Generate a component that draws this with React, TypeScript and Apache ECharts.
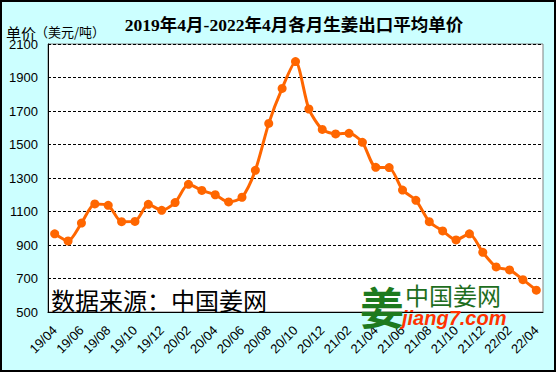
import React, { useEffect, useRef } from "react";
import * as echarts from "echarts";

const categories = [
  "19/04", "19/05", "19/06", "19/07", "19/08", "19/09", "19/10", "19/11", "19/12",
  "20/01", "20/02", "20/03", "20/04", "20/05", "20/06", "20/07", "20/08", "20/09",
  "20/10", "20/11", "20/12", "21/01", "21/02", "21/03", "21/04", "21/05", "21/06",
  "21/07", "21/08", "21/09", "21/10", "21/11", "21/12", "22/01", "22/02", "22/03",
  "22/04",
];

const prices = [
  967, 924, 1031, 1145, 1137, 1039, 1041, 1143, 1107,
  1153, 1262, 1226, 1200, 1157, 1185, 1346, 1626, 1835,
  1995, 1712, 1590, 1563, 1567, 1513, 1364, 1362, 1228,
  1167, 1039, 984, 930, 967, 856, 769, 751, 693,
  630,
];

const yMin = 500;
const yMax = 2100;
const yStep = 200;

const titleText = "2019年4月-2022年4月各月生姜出口平均单价";
const sourceText = "数据来源：中国姜网";

export default function App() {
  const ref = useRef<HTMLDivElement>(null);

  useEffect(() => {
    if (!ref.current) return;
    const chart = echarts.init(ref.current, null, { renderer: "svg" });
    const cjk = '"Noto Sans CJK SC", "Liberation Sans", sans-serif';
    chart.setOption({
      animation: false,
      backgroundColor: "#ccffff",
      grid: {
        left: 48,
        top: 44,
        right: 13,
        bottom: 60,
        show: true,
        backgroundColor: "#ffffff",
        borderColor: "#808080",
        borderWidth: 1,
      },
      xAxis: {
        type: "category",
        data: categories,
        boundaryGap: true,
        axisLine: { lineStyle: { color: "#000", width: 1 } },
        axisTick: { show: false },
        axisLabel: {
          interval: 1,
          rotate: 45,
          margin: 16,
          color: "#000",
          fontSize: 13,
          fontFamily: '"Liberation Sans", Arial, sans-serif',
        },
        splitLine: { show: false },
      },
      yAxis: {
        type: "value",
        min: yMin,
        max: yMax,
        interval: yStep,
        axisLine: { show: true, lineStyle: { color: "#000", width: 1 } },
        axisTick: { show: false },
        axisLabel: {
          margin: 10,
          color: "#000",
          fontSize: 13,
          fontFamily: '"Liberation Sans", Arial, sans-serif',
          formatter: (v: number) => String(v),
        },
        splitLine: {
          show: true,
          lineStyle: { color: "#000", type: [3, 2], width: 1 },
        },
      },
      series: [
        {
          type: "line",
          data: prices,
          smooth: 0.25,
          symbol: "circle",
          symbolSize: 9,
          showAllSymbol: true,
          lineStyle: { color: "#ff6600", width: 3 },
          itemStyle: { color: "#ff6600" },
          z: 3,
        },
      ],
      graphic: [
        {
          type: "rect",
          shape: { x: 1, y: 1, width: 554, height: 370 },
          style: { fill: "transparent", stroke: "#000", lineWidth: 2 },
          silent: true,
          z: 100,
        },
        {
          type: "text",
          x: 294,
          y: 25,
          style: {
            text: titleText,
            font: `bold 17.5px "Liberation Serif", "Noto Sans CJK SC", serif`,
            fill: "#000",
            align: "center",
            verticalAlign: "middle",
          },
        },
        {
          type: "text",
          x: 6,
          y: 32,
          style: {
            text: "单价",
            font: `15px ${cjk}`,
            fill: "#000",
            align: "left",
            verticalAlign: "middle",
          },
        },
        {
          type: "text",
          x: 35,
          y: 31,
          style: {
            text: "（美元/吨）",
            font: `13px ${cjk}`,
            fill: "#000",
            align: "left",
            verticalAlign: "middle",
          },
        },
        {
          type: "text",
          x: 51,
          y: 299,
          style: {
            text: sourceText,
            font: `24px ${cjk}`,
            fill: "#000",
            align: "left",
            verticalAlign: "middle",
          },
          z: 10,
        },
        {
          type: "text",
          x: 382,
          y: 306,
          style: {
            text: "姜",
            font: `bold 44px ${cjk}`,
            fill: "#1e7a1e",
            align: "center",
            verticalAlign: "middle",
          },
          z: 10,
        },
        {
          type: "text",
          x: 405,
          y: 294,
          style: {
            text: "中国姜网",
            font: `24px ${cjk}`,
            fill: "#1e6e1e",
            align: "left",
            verticalAlign: "middle",
          },
          z: 10,
        },
        {
          type: "text",
          x: 402,
          y: 318,
          style: {
            text: "jiang7.com",
            font: `italic bold 20px "Liberation Sans", Arial, sans-serif`,
            fill: "#ff3300",
            align: "left",
            verticalAlign: "middle",
          },
          z: 10,
        },
      ],
    });
    return () => chart.dispose();
  }, []);

  return (
    <div
      ref={ref}
      style={{ position: "fixed", left: 0, top: 0, width: 556, height: 372 }}
    />
  );
}
